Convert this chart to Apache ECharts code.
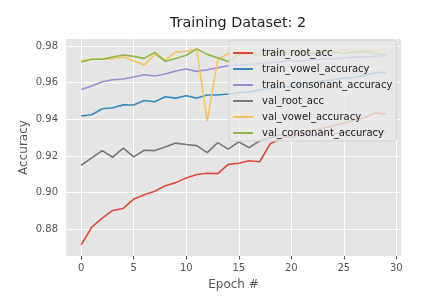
<!DOCTYPE html>
<html>
<head>
<meta charset="utf-8">
<script src="https://cdn.jsdelivr.net/npm/echarts@6/dist/echarts.min.js"></script>
<style>
html,body{margin:0;padding:0;background:#fff;}
#c{width:425px;height:299px;}
</style>
</head>
<body>
<div id="c"></div>
<script>
const epochs = Array.from({length: 30}, (_, i) => i);
const xTicks = [0, 5, 10, 15, 20, 25, 30];
const yTicks = [0.88, 0.90, 0.92, 0.94, 0.96, 0.98];

const trainRootAcc = [0.8714, 0.8811, 0.8860, 0.8902, 0.8913, 0.8964, 0.8988, 0.9007, 0.9037, 0.9054,
  0.9079, 0.9098, 0.9105, 0.9103, 0.9154, 0.9160, 0.9174, 0.9168, 0.9267, 0.9295,
  0.9316, 0.9325, 0.9340, 0.9350, 0.9365, 0.9380, 0.9395, 0.9410, 0.9435, 0.9430];
const trainVowelAcc = [0.9418, 0.9425, 0.9458, 0.9463, 0.9479, 0.9478, 0.9503, 0.9496, 0.9523, 0.9516,
  0.9529, 0.9516, 0.9533, 0.9533, 0.9538, 0.9545, 0.9550, 0.9560, 0.9570, 0.9575,
  0.9580, 0.9595, 0.9600, 0.9610, 0.9615, 0.9625, 0.9630, 0.9640, 0.9655, 0.9655];
const trainConsonantAcc = [0.9563, 0.9582, 0.9605, 0.9616, 0.9620, 0.9631, 0.9644, 0.9637, 0.9648, 0.9664,
  0.9675, 0.9662, 0.9671, 0.9682, 0.9693, 0.9697, 0.9700, 0.9705, 0.9710, 0.9715,
  0.9720, 0.9720, 0.9725, 0.9730, 0.9730, 0.9735, 0.9740, 0.9740, 0.9745, 0.9750];
const valRootAcc = [0.9149, 0.9189, 0.9229, 0.9193, 0.9242, 0.9195, 0.9231, 0.9229, 0.9249, 0.9270,
  0.9262, 0.9256, 0.9218, 0.9273, 0.9237, 0.9277, 0.9245, 0.9283, 0.9300, 0.9315,
  0.9300, 0.9320, 0.9310, 0.9325, 0.9320, 0.9330, 0.9320, 0.9335, 0.9330, 0.9335];
const valVowelAcc = [0.9719, 0.9728, 0.9728, 0.9732, 0.9741, 0.9719, 0.9697, 0.9755, 0.9724, 0.9768,
  0.9772, 0.9783, 0.9390, 0.9726, 0.9759, 0.9750, 0.9760, 0.9770, 0.9760, 0.9770,
  0.9780, 0.9770, 0.9760, 0.9780, 0.9770, 0.9780, 0.9770, 0.9780, 0.9770, 0.9785];
const valConsonantAcc = [0.9713, 0.9728, 0.9728, 0.9741, 0.9752, 0.9744, 0.9733, 0.9766, 0.9717, 0.9732,
  0.9750, 0.9785, 0.9755, 0.9737, 0.9716, 0.9755, 0.9760, 0.9750, 0.9760, 0.9765,
  0.9760, 0.9770, 0.9760, 0.9765, 0.9770, 0.9760, 0.9765, 0.9770, 0.9760, 0.9758];

const seriesDefs = [
  ['train_root_acc', trainRootAcc, '#E24A33'],
  ['train_vowel_accuracy', trainVowelAcc, '#348ABD'],
  ['train_consonant_accuracy', trainConsonantAcc, '#988ED5'],
  ['val_root_acc', valRootAcc, '#777777'],
  ['val_vowel_accuracy', valVowelAcc, '#FBC15E'],
  ['val_consonant_accuracy', valConsonantAcc, '#8EBA42']
];

const font = '"DejaVu Sans", sans-serif';
const chart = echarts.init(document.getElementById('c'), null, {renderer: 'canvas'});
chart.setOption({
  animation: false,
  backgroundColor: '#ffffff',
  title: {
    text: 'Training Dataset: 2',
    left: 233, top: 11, textAlign: 'center',
    textStyle: {fontFamily: font, fontSize: 14.4, fontWeight: 'normal', color: '#222'}
  },
  grid: {left: 66, right: 24, top: 39, bottom: 43, show: true, backgroundColor: '#E5E5E5', borderWidth: 0},
  legend: {
    orient: 'vertical', left: 229, top: 40, z: 20, zlevel: 0,
    backgroundColor: 'rgba(233,233,233,0.8)',
    borderColor: '#d2d2d2', borderWidth: 1, borderRadius: 3,
    padding: [7, 4, 2, 4],
    icon: 'rect',
    itemWidth: 20, itemHeight: 2, itemGap: 4,
    textStyle: {fontFamily: font, fontSize: 10, color: '#222', padding: [0, 0, 0, 4], lineHeight: 12},
    data: seriesDefs.map(d => d[0])
  },
  xAxis: {
    type: 'value', min: -1.45, max: 30.45,
    name: 'Epoch #', nameLocation: 'middle', nameGap: 23, nameMoveOverlap: false,
    nameTextStyle: {fontFamily: font, fontSize: 12, color: '#555'},
    axisLine: {show: false},
    axisTick: {show: true, length: 3.5, lineStyle: {color: '#555'}, customValues: xTicks},
    axisLabel: {fontFamily: font, fontSize: 10, color: '#555', margin: 7, customValues: xTicks},
    splitLine: {show: false}
  },
  yAxis: {
    type: 'value', min: 0.8653, max: 0.9839,
    name: 'Accuracy', nameLocation: 'middle', nameGap: 36, nameMoveOverlap: false,
    nameTextStyle: {fontFamily: font, fontSize: 12, color: '#555'},
    axisLine: {show: false},
    axisTick: {show: true, length: 3.5, lineStyle: {color: '#555'}, customValues: yTicks},
    axisLabel: {fontFamily: font, fontSize: 10, color: '#555', margin: 8, customValues: yTicks,
      formatter: v => v.toFixed(2)},
    splitLine: {show: false}
  },
  series: [
    {
      type: 'line', name: '__grid', data: [], silent: true, legendHoverLink: false, z: 1,
      markLine: {
        silent: true, symbol: 'none', label: {show: false}, z: 1,
        lineStyle: {color: '#ffffff', width: 1, type: 'solid'},
        data: xTicks.map(v => ({xAxis: v})).concat(yTicks.map(v => ({yAxis: v})))
      }
    }
  ].concat(seriesDefs.map(d => ({
    type: 'line', name: d[0], data: epochs.map((e, i) => [e, d[1][i]]),
    symbol: 'none', color: d[2], lineStyle: {width: 1.6, color: d[2]}, z: 3
  })))
});
</script>
</body>
</html>
